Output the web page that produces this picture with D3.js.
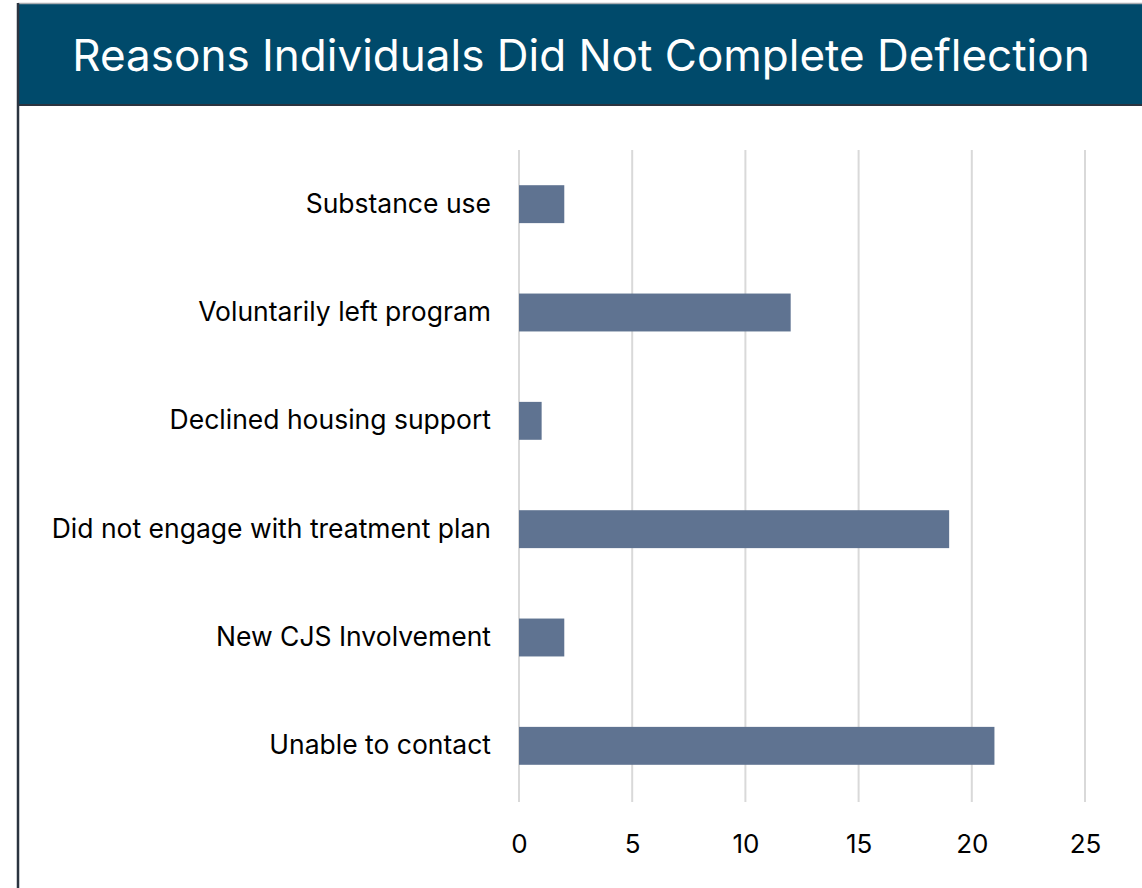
<!DOCTYPE html>
<meta charset="utf-8">
<script src="https://d3js.org/d3.v7.min.js"></script>
<style>
  body { margin: 0; background: #fff; }
</style>
<div id="my_dataviz"></div>
<script>

// data
var categories = ["Substance use", "Voluntarily left program", "Declined housing support",
                  "Did not engage with treatment plan", "New CJS Involvement", "Unable to contact"];
var values = [2, 12, 1, 19, 2, 21];
var ticks = [0, 5, 10, 15, 20, 25];
var title = "Reasons Individuals Did Not Complete Deflection";

var W = 1142, H = 888;
var font = "Inter, 'Open Sans', sans-serif";

var svg = d3.select("#my_dataviz")
  .append("svg")
    .attr("width", W)
    .attr("height", H);

// title bar
svg.append("rect")
  .attr("x", 18).attr("y", 4)
  .attr("width", W - 18).attr("height", 101)
  .attr("fill", "#004a6b");
svg.append("line")
  .attr("x1", 18).attr("x2", W).attr("y1", 3.5).attr("y2", 3.5)
  .attr("stroke", "#a9adb2").attr("stroke-width", 1.5);
svg.append("line")
  .attr("x1", 18).attr("x2", W).attr("y1", 105).attr("y2", 105)
  .attr("stroke", "#2b3440").attr("stroke-width", 2);
svg.append("line")
  .attr("x1", 18).attr("x2", 18).attr("y1", 3).attr("y2", H)
  .attr("stroke", "#2b3440").attr("stroke-width", 2.5);

svg.append("text")
  .attr("x", 581).attr("y", 71)
  .attr("text-anchor", "middle")
  .attr("fill", "#fff")
  .style("font-family", font)
  .style("font-size", "44px")
  .text(title);

// scales
var x = d3.scaleLinear().domain([0, 25]).range([519, 1085]);
var y = d3.scaleBand()
  .domain(categories)
  .range([150, 800])
  .paddingInner(0.65)
  .paddingOuter(0.325);

// gridlines
svg.append("g")
  .selectAll("line")
  .data(ticks)
  .enter()
  .append("line")
    .attr("x1", function(d) { return x(d); })
    .attr("x2", function(d) { return x(d); })
    .attr("y1", 150).attr("y2", 802)
    .attr("stroke", "#d9d9d9")
    .attr("stroke-width", 2);

// x axis labels
var xAxis = svg.append("g")
  .attr("transform", "translate(0,802)")
  .call(d3.axisBottom(x).tickValues(ticks).tickSize(0).tickPadding(33));
xAxis.select(".domain").remove();
xAxis.selectAll("text")
  .attr("fill", "#000")
  .style("font-family", font)
  .style("font-size", "26px");

// y axis labels
var yAxis = svg.append("g")
  .attr("transform", "translate(519,0)")
  .call(d3.axisLeft(y).tickSize(0).tickPadding(28));
yAxis.select(".domain").remove();
yAxis.selectAll("text")
  .attr("fill", "#000")
  .style("font-family", font)
  .style("font-size", "26.5px");

// bars
svg.selectAll("rect.bar")
  .data(categories)
  .enter()
  .append("rect")
    .attr("class", "bar")
    .attr("x", x(0))
    .attr("y", function(d) { return y(d); })
    .attr("width", function(d, i) { return x(values[i]) - x(0); })
    .attr("height", y.bandwidth())
    .attr("fill", "#5f7391");

</script>
